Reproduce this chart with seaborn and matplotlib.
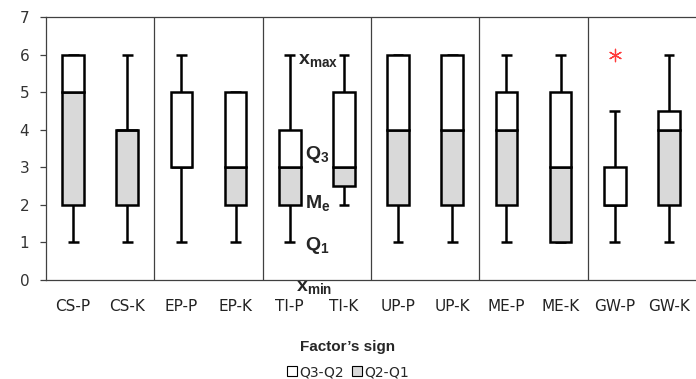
import matplotlib
matplotlib.use("Agg")
import matplotlib.pyplot as plt
from matplotlib.patches import Patch
import numpy as np
import pandas as pd
import seaborn as sns

categories = ["CS-P", "CS-K", "EP-P", "EP-K", "TI-P", "TI-K",
              "UP-P", "UP-K", "ME-P", "ME-K", "GW-P", "GW-K"]
x_min = [1, 1, 1, 1, 1, 2, 1, 1, 1, 1, 1, 1]
q1 = [2, 2, 3, 2, 2, 2.5, 2, 2, 2, 1, 2, 2]
median = [5, 4, 3, 3, 3, 3, 4, 4, 4, 3, 2, 4]
q3 = [6, 4, 5, 5, 4, 5, 6, 6, 5, 5, 3, 4.5]
x_max = [6, 6, 6, 5, 6, 6, 6, 6, 6, 6, 4.5, 6]
outlier_cat = ["GW-P"]
outlier_val = [6]

sns.set_style("white")
plt.rcParams["font.family"] = ["Liberation Sans", "DejaVu Sans"]
plt.rcParams["mathtext.fontset"] = "custom"
plt.rcParams["mathtext.rm"] = "Liberation Sans"
plt.rcParams["mathtext.bf"] = "Liberation Sans:bold"
plt.rcParams["mathtext.it"] = "Liberation Sans:italic"

df = pd.DataFrame({"cat": categories, "xmin": x_min, "q1": q1, "med": median,
                   "q3": q3, "xmax": x_max})
df["low"] = df["med"] - df["q1"]
df["high"] = df["q3"] - df["med"]

fig = plt.figure(figsize=(6.96, 3.79), dpi=100)
ax = fig.add_axes([46 / 696, 1 - 280 / 379, 650 / 696, 263 / 379])

pos = np.arange(len(categories))
w = 0.4
lw = 1.8
# whiskers
ax.vlines(pos, df["xmin"], df["q1"], color="black", lw=lw, zorder=2)
ax.vlines(pos, df["q3"], df["xmax"], color="black", lw=lw, zorder=2)
ax.hlines(df["xmin"], pos - 0.1, pos + 0.1, color="black", lw=lw, zorder=2)
ax.hlines(df["xmax"], pos - 0.1, pos + 0.1, color="black", lw=lw, zorder=2)

# boxes (stacked bars)
sns.barplot(data=df, x="cat", y="low", bottom=df["q1"].values, width=w,
            color="#D9D9D9", edgecolor="black", linewidth=lw, saturation=1,
            ax=ax, zorder=3)
sns.barplot(data=df, x="cat", y="high", bottom=df["med"].values, width=w,
            color="white", edgecolor="black", linewidth=lw, saturation=1,
            ax=ax, zorder=3)

# outlier
sns.scatterplot(x=[categories.index(c) for c in outlier_cat], y=outlier_val,
                marker=(6, 2, 0), s=80, color="#FF3B3B", linewidth=0.9,
                ax=ax, zorder=4, legend=False)

# group separators
for b in [1.5, 3.5, 5.5, 7.5, 9.5]:
    ax.axvline(b, color="#404040", lw=0.9, zorder=1)

ax.set_xlim(-0.5, 11.5)
ax.set_ylim(0, 7)
ax.set_yticks(range(0, 8))
ax.set_xticks(pos)
ax.set_xticklabels(categories)
ax.set_xticks(np.arange(-0.5, 12, 2), minor=True)
ax.tick_params(axis="x", which="major", length=0, pad=14, labelsize=11, labelcolor="#222222",
               labelfontfamily="DejaVu Sans")
ax.tick_params(axis="x", which="minor", length=5, width=0.9, color="#404040", direction="out")
ax.tick_params(axis="y", length=4, width=0.9, color="#404040", direction="out",
               labelsize=11, labelcolor="#333333", pad=8, left=True,
               labelfontfamily="DejaVu Sans")
for s in ["left", "bottom", "top"]:
    ax.spines[s].set_color("#404040")
    ax.spines[s].set_linewidth(0.9)
ax.spines["right"].set_visible(False)
ax.set_xlabel("Factor\u2019s sign", fontsize=11, fontweight="bold")
ax.xaxis.set_label_coords((348 - 46) / 650, -0.23)
ax.set_ylabel("")

# annotations
ax.text(4.15, 5.85, r"$\mathbf{x_{max}}$", fontsize=14, ha="left", va="center")
ax.text(4.29, 3.35, r"$\mathbf{Q_{3}}$", fontsize=14, ha="left", va="center")
ax.text(4.29, 2.05, r"$\mathbf{M_{e}}$", fontsize=14, ha="left", va="center")
ax.text(4.29, 0.93, r"$\mathbf{Q_{1}}$", fontsize=14, ha="left", va="center")
ax.text(4.12, -0.2, r"$\mathbf{x_{min}}$", fontsize=14, ha="left", va="center",
        clip_on=False)

handles = [Patch(facecolor="white", edgecolor="black", lw=0.8, label="Q3-Q2"),
           Patch(facecolor="#D9D9D9", edgecolor="black", lw=0.8, label="Q2-Q1")]
fig.legend(handles=handles, loc="center", bbox_to_anchor=(0.5, 1 - 372 / 379),
           ncol=2, frameon=False, prop={"family": "DejaVu Sans", "size": 10},
           handlelength=0.7, handleheight=0.7,
           handletextpad=0.15, columnspacing=0.6, borderpad=0)

fig.savefig("out.png", dpi=100)
